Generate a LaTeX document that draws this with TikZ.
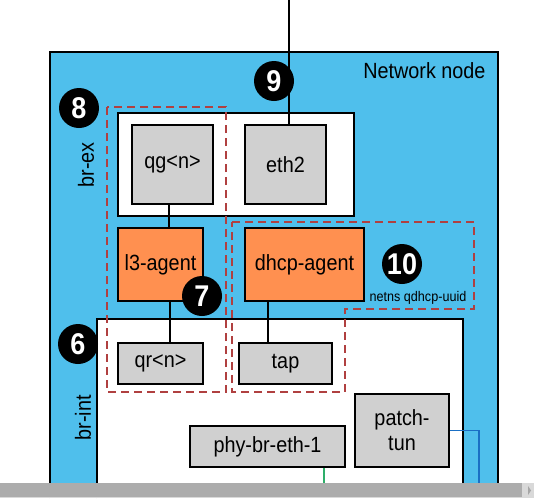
\documentclass[tikz,border=0pt]{standalone}
\usepackage{fontspec}
\setmainfont{Liberation Sans}[FakeStretch=0.9]
\usetikzlibrary{positioning}

\definecolor{nodeblue}{HTML}{4FBFEC}
\definecolor{agentorange}{HTML}{FF9050}
\definecolor{portgray}{HTML}{D0D0D0}
\definecolor{nsred}{HTML}{B04040}
\definecolor{tunblue}{HTML}{1A6FC4}
\definecolor{phygreen}{HTML}{2EAE6A}

\tikzset{
  port/.style={draw, line width=2.5pt, fill=portgray, inner sep=0pt,
    font=\fontsize{22}{24}\selectfont},
  agent/.style={port, fill=agentorange},
  badge/.style={circle, fill=black, text=white, inner sep=0pt, minimum size=40,
    font=\fontsize{30}{30}\selectfont\bfseries},
  netns/.style={draw=nsred, line width=1.5pt, dash pattern=on 8pt off 5pt},
}

\begin{document}
\begin{tikzpicture}[x=1pt, y=-1pt]
    \useasboundingbox (0,0) rectangle (534,498);

    % Network node and bridges
    \fill[nodeblue] (50,52) rectangle (498,498);
    \draw[line width=2.5pt] (50,498) -- (50,52) -- (498,52) -- (498,498);
    \node[anchor=north east, font=\fontsize{22}{24}\selectfont] (title) at (489,59) {Network node};
    \draw[line width=2.5pt, fill=white] (118,113) rectangle (354,216);
    \draw[line width=2.5pt, fill=white] (97,498) -- (97,319) -- (463,319) -- (463,498);
    \node[rotate=90, font=\fontsize{22}{24}\selectfont] (brex) at (86,165) {br-ex};
    \node[rotate=90, font=\fontsize{22}{24}\selectfont] (brint) at (83,418) {br-int};

    % Namespaces
    \draw[netns] (107,107) rectangle (226,392);
    \draw[netns] (232,222) -- (474,222) -- (474,309) -- (345,309) -- (345,392)
        -- (232,392) -- cycle;
    \node[font=\fontsize{14}{16}\selectfont] (nsname) at (418,298) {netns qdhcp-uuid};

    % Ports and agents
    \node[port, minimum width=81, minimum height=79] (qg) at (172.5,164.5) {qg<n>};
    \node[port, minimum width=81, minimum height=79] (eth2) at (285.5,164.5) {eth2};
    \node[agent, minimum width=85, minimum height=73] (l3) at (160.5,264.5) {l3-agent};
    \node[agent, minimum width=119, minimum height=73] (dhcp) at (304.5,264.5) {dhcp-agent};
    \node[port, minimum width=85, minimum height=41] (qr) at (160.5,363.5) {qr<n>};
    \node[port, minimum width=93, minimum height=41] (tap) at (285.5,363.5) {tap};
    \node[port, minimum width=155, minimum height=41] (phy) at (267.5,446.5) {phy-br-eth-1};
    \node[port, minimum width=94, minimum height=73, align=center,
        font=\fontsize{22}{25}\selectfont] (patch) at (402,430.5) {patch-\\tun};

    % Links
    \coordinate (uplink) at (289,0);
    \coordinate (phyout) at (324,484);
    \coordinate (tunout) at (479,484);
    \draw[line width=1.5pt] (uplink) -- (uplink |- eth2.north);
    \draw[line width=1.5pt] ([xshift=-3.5]qg.south) -- ([xshift=-3.5]qg.south |- l3.north);
    \draw[line width=1.5pt] ([xshift=9.5]l3.south) -- ([xshift=9.5]qr.north);
    \draw[line width=1.5pt] ([xshift=-36.5]dhcp.south) -- ([xshift=-36.5]dhcp.south |- tap.north);
    \draw[line width=1.2pt, phygreen] (phyout |- phy.south) -- (phyout);
    \draw[line width=1.2pt, tunblue] (patch.east) -| (tunout);

    % Badges
    \node[badge] (b9) at (274,81) {9};
    \node[badge] (b8) at (79,108) {8};
    \node[badge] (b10) at (402,264) {10};
    \node[badge] (b7) at (202,296) {7};
    \node[badge] (b6) at (78,344) {6};

    % Scrollbar
    \fill[gray!30] (0,483) rectangle (534,498);
    \fill[gray!65] (0,483) rectangle (522,497);
    \fill[gray!70] (528,486) -- (531,490.5) -- (528,495) -- cycle;
\end{tikzpicture}
\end{document}
